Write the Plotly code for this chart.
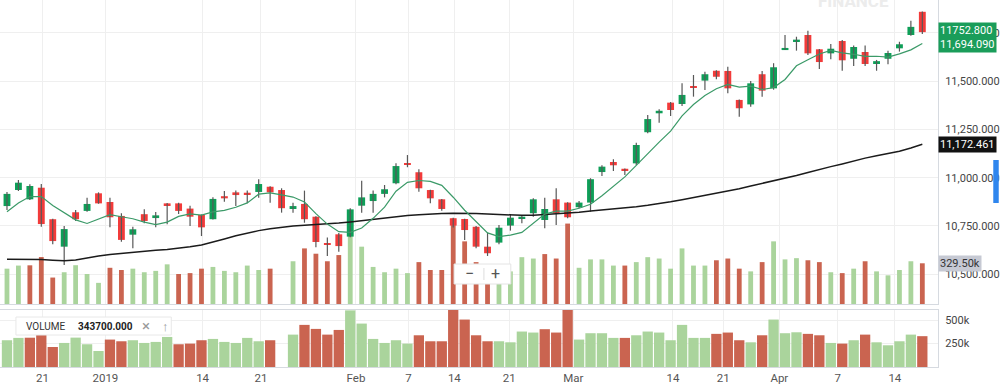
import plotly.graph_objects as go

# ---------------- data ----------------
day_index = list(range(81))

opens = [10853, 10936, 10888, 10948, 10785, 10643, 10821, 10828, 10919, 10874,
         10802, 10705, 10811, 10791, 10867, 10867, 10840, 10807, 10785, 10904,
         10924, 10922, 10926, 10953, 10936, 10843, 10864, 10798, 10660, 10707,
         10695, 10855, 10879, 10916, 10971, 11074, 11028, 10936, 10888, 10790,
         10786, 10746, 10643, 10664, 10752, 10788, 10816, 10781, 10888, 10871,
         10847, 10871, 11029, 11081, 11046, 11074, 11235, 11333, 11388, 11381,
         11474, 11502, 11553, 11552, 11402, 11379, 11535, 11462, 11660, 11705,
         11738, 11664, 11643, 11707, 11615, 11650, 11593, 11615, 11669, 11738,
         11858]
highs = [10926, 10988, 10966, 10967, 10787, 10750, 10833, 10896, 10924, 10896,
         10816, 10746, 10836, 10822, 10869, 10870, 10855, 10810, 10898, 10931,
         10933, 10933, 10992, 10955, 10945, 10870, 10933, 10800, 10691, 10714,
         10842, 10984, 10933, 10962, 11074, 11117, 11043, 10938, 10890, 10793,
         10788, 10750, 10715, 10755, 10812, 10807, 10893, 10896, 10945, 10873,
         10879, 10997, 11064, 11095, 11048, 11181, 11324, 11354, 11391, 11488,
         11531, 11548, 11555, 11574, 11404, 11500, 11552, 11592, 11738, 11729,
         11760, 11666, 11691, 11712, 11683, 11683, 11609, 11657, 11703, 11812,
         11860]
lows = [10833, 10931, 10884, 10746, 10655, 10548, 10776, 10824, 10865, 10743,
        10669, 10635, 10764, 10743, 10759, 10812, 10750, 10698, 10783, 10876,
        10853, 10867, 10896, 10870, 10819, 10819, 10767, 10640, 10595, 10617,
        10692, 10819, 10819, 10898, 10966, 11054, 10927, 10867, 10829, 10742,
        10678, 10635, 10595, 10655, 10726, 10764, 10798, 10738, 10755, 10790,
        10842, 10824, 11009, 11034, 11014, 11066, 11230, 11284, 11319, 11371,
        11419, 11453, 11509, 11436, 11315, 11367, 11419, 11455, 11660, 11657,
        11634, 11562, 11612, 11553, 11578, 11578, 11553, 11586, 11652, 11734,
        11743]
closes = [10916, 10974, 10957, 10760, 10672, 10734, 10785, 10864, 10867, 10795,
          10678, 10733, 10776, 10805, 10857, 10828, 10798, 10743, 10890, 10893,
          10910, 10912, 10967, 10924, 10842, 10853, 10785, 10667, 10652, 10646,
          10836, 10898, 10916, 10940, 11060, 11066, 10945, 10893, 10838, 10752,
          10729, 10643, 10609, 10741, 10793, 10798, 10888, 10838, 10816, 10795,
          10871, 10992, 11057, 11064, 11036, 11169, 11303, 11346, 11350, 11428,
          11464, 11535, 11522, 11462, 11359, 11488, 11450, 11571, 11671, 11714,
          11643, 11598, 11667, 11607, 11676, 11588, 11602.65, 11645, 11690, 11780,
          11752.8]
volumes = [286000, 311000, 313000, 380000, 214000, 257000, 314000, 243000, 171000, 293000,
           275000, 286000, 257000, 268000, 321000, 243000, 250000, 286000, 300000, 268000,
           257000, 311000, 275000, 286000, None, 346000, 450000, 407000, 346000, 396000,
           605000, 464000, 300000, 257000, 286000, 250000, 339000, 275000, 275000, 690000,
           507000, 339000, 275000, 275000, 264000, 379000, 368000, 404000, 368000, 651000,
           293000, 361000, 361000, 311000, 311000, 339000, 379000, 368000, 286000, 450000,
           311000, 311000, 354000, 368000, 286000, 264000, 339000, 507000, 361000, 371000,
           354000, 339000, 257000, 250000, 286000, 346000, 264000, 232000, 275000, 346000,
           329500]
# long moving average (its history starts before the visible window), read per day
ma_long = [10578, 10578, 10577, 10576, 10573, 10570, 10574, 10586, 10595, 10603,
           10609, 10615, 10620, 10624, 10628, 10634, 10642, 10652, 10666, 10683,
           10699, 10713, 10726, 10736, 10744, 10750, 10754, 10757, 10760, 10765,
           10771, 10778, 10785, 10792, 10799, 10804, 10808, 10812, 10815, 10816,
           10816, 10815, 10812, 10809, 10806, 10805, 10806, 10809, 10812, 10816,
           10821, 10828, 10833, 10838, 10843, 10850, 10857, 10865, 10875, 10886,
           10897, 10908, 10918, 10930, 10943, 10957, 10970, 10982, 10996, 11011,
           11027, 11043, 11057, 11071, 11087, 11101, 11113, 11125, 11137, 11153,
           11172.461]
# 5-day average values of the first four days (their history is off screen)
ma5_lead = [10824, 10869, 10902, 10902]

tick_pos = [3.1, 8.6, 17.1, 22.2, 30.5, 35.1, 39.1, 43.9, 49.5, 58.2, 62.6, 67.5, 72.6, 77.6]
tick_text = ["21", "2019", "14", "21", "Feb", "7", "14", "21", "Mar", "14", "21", "Apr", "7", "14"]
price_ticks = [10500, 10750, 11000, 11250, 11500, 11750]
vol_ticks = [250000, 500000]
vol_tick_text = ["250k", "500k"]
legend_value = "343700.000"

# ---------------- styles ----------------
UP, DN = "#0e9f58", "#f23b3a"
VUP, VDN = "#aad49c", "#ca6450"
WICK = "#585858"
GRID = "#efefef"
LINE = "#d6dae0"
FONT = "Roboto, 'Liberation Sans', sans-serif"

# derived
body_base = [min(o, c) for o, c in zip(opens, closes)]
body_len = [abs(c - o) for o, c in zip(opens, closes)]
body_col = [UP if c >= o else DN for o, c in zip(opens, closes)]
prev_close = [None] + closes[:-1]
vol_col = [VUP if (p is None or c >= p) else VDN for c, p in zip(closes, prev_close)]
ma5 = list(ma5_lead)
for i in range(len(ma5_lead), len(closes)):
    ma5.append(sum(closes[i - 4:i + 1]) / 5.0)

wick_x, wick_y = [], []
for d, h, l in zip(day_index, highs, lows):
    wick_x += [d, d, None]
    wick_y += [l, h, None]

fig = go.Figure()

# volume overlay in the price pane (base axis y)
fig.add_trace(go.Bar(x=day_index, y=volumes, width=0.42, marker=dict(color=vol_col, line=dict(width=0)),
                     xaxis="x", yaxis="y"))
# candles on the overlaying price axis y3
fig.add_trace(go.Scatter(x=wick_x, y=wick_y, mode="lines", line=dict(color=WICK, width=1.2),
                         xaxis="x", yaxis="y3"))
fig.add_trace(go.Bar(x=day_index, y=body_len, base=body_base, width=0.6,
                     marker=dict(color=body_col, line=dict(width=0)), xaxis="x", yaxis="y3"))
fig.add_trace(go.Scatter(x=day_index, y=ma_long, mode="lines", line=dict(color="#1b1b1b", width=1.5),
                         xaxis="x", yaxis="y3"))
fig.add_trace(go.Scatter(x=day_index, y=ma5, mode="lines", line=dict(color="#3b9a68", width=1.2),
                         xaxis="x", yaxis="y3"))
# lower volume pane
fig.add_trace(go.Bar(x=day_index, y=volumes, width=0.9, marker=dict(color=vol_col, line=dict(width=0)),
                     xaxis="x2", yaxis="y2"))

X_RANGE = [-0.61, 81.37]
fig.update_layout(
    width=1000, height=388,
    margin=dict(l=0, r=58, t=0, b=21),
    paper_bgcolor="white", plot_bgcolor="white",
    showlegend=False, hovermode=False, barmode="overlay",
    font=dict(family=FONT, color="#444", size=11),
    xaxis=dict(domain=[0, 1], anchor="y", range=X_RANGE, tickvals=tick_pos, showticklabels=False,
               showgrid=True, gridcolor=GRID, zeroline=False, showline=True, linecolor=LINE, ticks=""),
    yaxis=dict(domain=[0.1717, 1], anchor="x", range=[0, 2461000], visible=False, showgrid=False),
    yaxis3=dict(overlaying="y", anchor="x", side="right", range=[10346.5, 11919],
                tickvals=price_ticks, tickformat=",.3f", showgrid=True, gridcolor=GRID,
                zeroline=False, showline=True, linecolor=LINE, ticks="",
                tickfont=dict(size=11, color="#454545", family=FONT), ticklabelstandoff=4),
    xaxis2=dict(domain=[0, 1], anchor="y2", range=X_RANGE, tickvals=tick_pos, ticktext=tick_text,
                showgrid=True, gridcolor=GRID, zeroline=False, showline=True, mirror=True,
                linecolor=LINE, ticks="", tickfont=dict(size=11.5, color="#555", family=FONT)),
    yaxis2=dict(domain=[0, 0.1553], anchor="x2", side="right", range=[0, 609000],
                tickvals=vol_ticks, ticktext=vol_tick_text, showgrid=True, gridcolor=GRID,
                zeroline=False, showline=True, linecolor=LINE, ticks="",
                tickfont=dict(size=11, color="#454545", family=FONT), ticklabelstandoff=4),
)

# right-hand value tags
def tag(text, y, yref, bg, fg):
    fig.add_annotation(x=1, xref="paper", xanchor="left", xshift=0, y=y, yref=yref, yanchor="middle",
                       text=text, showarrow=False, bgcolor=bg, borderpad=1,
                       font=dict(size=11, color=fg, family=FONT), align="left")

tag(f"{closes[-1]:.3f}<br>{ma5[-1]:,.3f}", (closes[-1] + ma5[-1]) / 2, "y3", "#1a9d5a", "white")
tag(f"{ma_long[-1]:,.3f}", ma_long[-1], "y3", "#111111", "white")
tag(f"{volumes[-1] / 1000:.2f}k", volumes[-1], "y", "#c6c9d3", "#333")

def py(p):
    """pixel row inside the plotting area -> paper fraction"""
    return (367 - p) / 367

# zoom control (− | +)
fig.add_shape(type="rect", xref="paper", yref="paper", x0=456 / 942, x1=513 / 942,
              y0=py(284), y1=py(264), fillcolor="white",
              line=dict(color="#e4e4e4", width=1), layer="above")
fig.add_shape(type="line", xref="paper", yref="paper", x0=486 / 942, x1=486 / 942,
              y0=py(280), y1=py(268), line=dict(color="#dddddd", width=1), layer="above")
fig.add_annotation(x=471 / 942, y=py(274), xref="paper", yref="paper", yanchor="middle", text="−",
                   showarrow=False, font=dict(size=16, color="#555", family=FONT))
fig.add_annotation(x=498 / 942, y=py(274), xref="paper", yref="paper", yanchor="middle", text="+",
                   showarrow=False, font=dict(size=16, color="#555", family=FONT))

# VOLUME legend box
fig.add_shape(type="rect", xref="paper", yref="paper", x0=16 / 942, x1=172 / 942,
              y0=py(335), y1=py(317), fillcolor="white",
              line=dict(color="#e8e8e8", width=1), layer="above")
fig.add_annotation(x=24 / 942, y=py(326), xref="paper", yref="paper", xanchor="left", yanchor="middle",
                   text="VOLUME", showarrow=False, font=dict(size=10, color="#333", family=FONT))
fig.add_annotation(x=76 / 942, y=py(326), xref="paper", yref="paper", xanchor="left", yanchor="middle",
                   text=f"<b>{legend_value}</b>", showarrow=False, font=dict(size=10, color="#222", family=FONT))
fig.add_annotation(x=141 / 942, y=py(326), xref="paper", yref="paper", yanchor="middle",
                   text="×", showarrow=False, font=dict(size=15, color="#9a9a9a", family=FONT))
fig.add_annotation(x=161 / 942, y=py(326), xref="paper", yref="paper", yanchor="middle",
                   text="↑", showarrow=False, font=dict(size=13, color="#9a9a9a", family=FONT))

# faint watermark at top right
fig.add_annotation(x=895 / 942, y=py(1), xref="paper", yref="paper", yanchor="middle",
                   text="<b>FINANCE</b>", showarrow=False,
                   font=dict(size=17, color="#ececec", family=FONT))
# blue edge marker at the far right
fig.add_shape(type="rect", xref="paper", yref="paper", x0=997.5 / 942, x1=1003 / 942,
              y0=py(203), y1=py(160), fillcolor="#2f86ee",
              line=dict(width=0), layer="above")

fig.write_html("out.html", config={"displayModeBar": False},
               post_script="document.body.style.margin='0px';document.body.style.overflow='hidden';")
